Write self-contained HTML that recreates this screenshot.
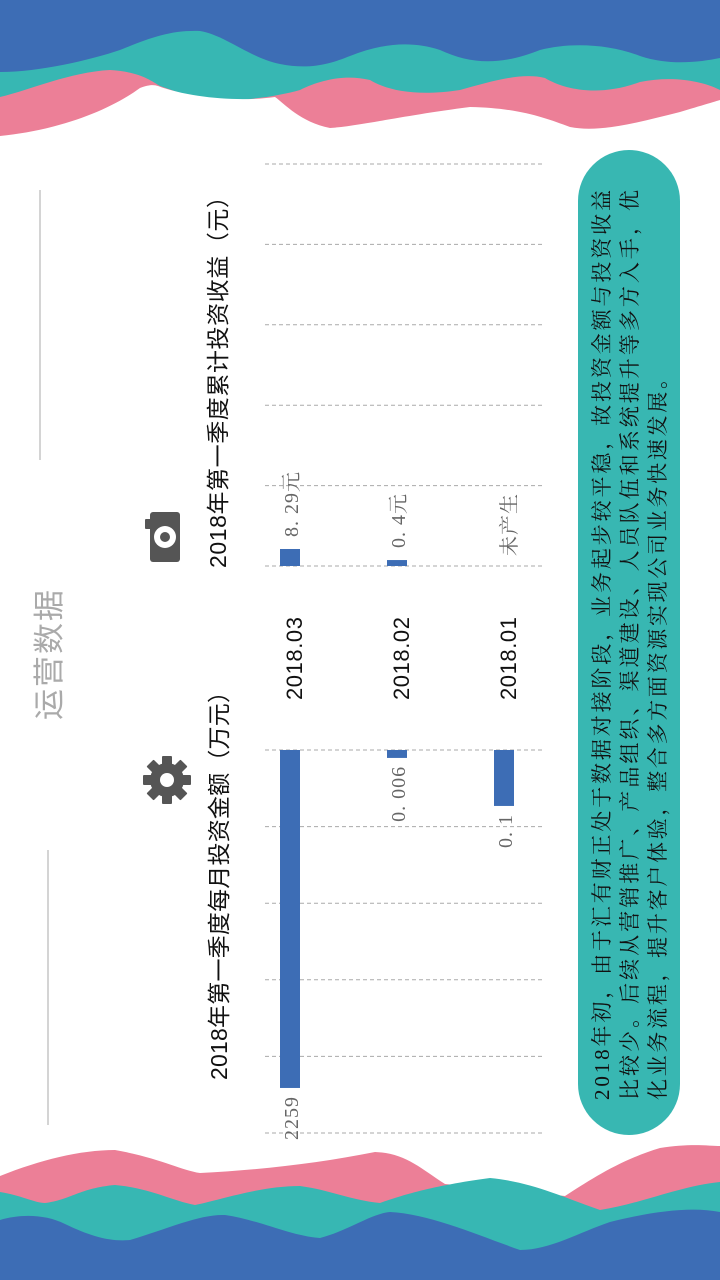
<!DOCTYPE html>
<html><head><meta charset="utf-8"><style>
html,body{margin:0;padding:0;background:#fff;}
svg{display:block;}
</style></head><body>
<svg width="720" height="1280" viewBox="0 0 720 1280" xmlns="http://www.w3.org/2000/svg">
<rect width="720" height="1280" fill="#fff"/>
<g>
<path d="M0,0 H720 V140 H0 Z" fill="#3d6db5"/>
<path d="M0,72 C40,72 90,60 120,50 C150,38 170,30 200,31 C225,35 250,58 280,64 C310,70 330,64 350,56 C380,44 410,40 440,50 C470,64 500,66 540,50 C570,42 610,44 640,56 C670,66 700,62 720,58 V140 H0 Z" fill="#37b7b3"/>
<path d="M0,97 C30,90 70,72 110,70 C140,72 150,80 160,86 L200,100 C240,102 275,97 300,90 C320,80 345,74 370,80 C390,92 420,96 460,90 C490,82 520,72 545,78 C565,90 600,97 640,82 C670,76 700,80 720,90 V140 H0 Z" fill="#ec7f97"/>
<path d="M0,140 V136 C60,130 110,110 140,88 C150,84 155,85 158,86 C190,98 240,102 275,97 C285,104 300,122 330,128 C360,126 400,116 470,107 C520,108 545,118 570,127 C600,133 640,122 680,112 C700,106 720,100 720,100 V140 Z" fill="#fff"/>
</g>
<g>
<path d="M0,1176 C40,1160 80,1150 115,1150 C160,1158 180,1170 200,1173 C260,1170 320,1163 375,1152 C405,1153 420,1168 445,1184 L565,1196 C590,1180 620,1160 660,1148 C690,1143 710,1146 720,1146 V1280 H0 Z" fill="#ec7f97"/>
<path d="M0,1192 C20,1195 35,1203 45,1203 C70,1200 80,1188 115,1185 C150,1188 170,1200 195,1205 C220,1200 260,1186 300,1186 C330,1190 350,1200 380,1203 C400,1196 430,1186 490,1178 C530,1182 555,1194 600,1210 C640,1204 680,1186 720,1182 V1280 H0 Z" fill="#37b7b3"/>
<path d="M0,1220 C20,1214 45,1214 65,1224 C90,1236 110,1242 130,1240 C170,1228 200,1214 225,1215 C260,1220 290,1236 320,1238 C350,1230 370,1214 390,1212 C430,1214 480,1236 520,1250 C550,1250 580,1232 610,1222 C650,1212 690,1206 720,1212 V1280 H0 Z" fill="#3d6db5"/>
</g>

<g>
<line x1="40" y1="190" x2="40" y2="460" stroke="#aaa" stroke-width="1"/>
<line x1="48" y1="850" x2="48" y2="1125" stroke="#aaa" stroke-width="1"/>
<text transform="translate(60,720) rotate(-90)" font-family="'Liberation Sans','Noto Sans CJK SC',sans-serif" font-size="31" fill="#aaa" textLength="130">运营数据</text>
</g>

<g>
<rect x="578" y="150" width="102" height="985" rx="51" fill="#38b7b2"/>
<g font-family="'Liberation Serif','Noto Serif CJK SC',serif" font-size="21" fill="#111">
<text transform="translate(609,1100) rotate(-90)" textLength="910" lengthAdjust="spacing">2018年初，由于汇有财正处于数据对接阶段，业务起步较平稳，故投资金额与投资收益</text>
<text transform="translate(637,1100) rotate(-90)" textLength="910" lengthAdjust="spacing">比较少。后续从营销推广、产品组织、渠道建设、人员队伍和系统提升等多方入手，优</text>
<text transform="translate(665,1100) rotate(-90)" textLength="732" lengthAdjust="spacing">化业务流程，提升客户体验，整合多方面资源实现公司业务快速发展。</text>
</g>
</g>

<g transform="translate(167,780)" fill="#555">
<rect x="-5" y="-24" width="10" height="48" rx="1"/>
<rect x="-5" y="-24" width="10" height="48" rx="1" transform="rotate(45)"/>
<rect x="-5" y="-24" width="10" height="48" rx="1" transform="rotate(90)"/>
<rect x="-5" y="-24" width="10" height="48" rx="1" transform="rotate(135)"/>
<circle r="17"/>
<circle r="7" fill="#fff"/>
</g>
<g transform="translate(165,537)" fill="#555">
<rect x="-15" y="-25" width="30" height="50" rx="3"/>
<rect x="-20" y="-18" width="6" height="10" rx="1"/>
<circle r="11" fill="#fff"/>
<circle r="5"/>
</g>

<g id="charts"></g>
</svg>
<script>
const categories = ['2018.03','2018.02','2018.01'];
const amountValues = [2259, 53, 374];
const amountLabels = ['2259','0. 006','0. 1'];
const amountMax = 2560;
const amountTicks = [0,1,2,3,4,5];
const incomeValues = [8.29, 2.9, 0];
const incomeLabels = ['8. 29元','0. 4元','未产生'];
const incomeMax = 196;
const incomeTicks = [0,1,2,3,4,5];

const NS='http://www.w3.org/2000/svg';
const root=document.getElementById('charts');
function mk(tag,attrs,parent){const e=document.createElementNS(NS,tag);for(const k in attrs)e.setAttribute(k,attrs[k]);(parent||root).appendChild(e);return e;}
const catX = i => 280 + i*107;
const barW = 20;
const amtY = v => 750 + v/amountMax*383;
const incY = v => 566 - v/incomeMax*402;

const g1=mk('g',{});


const g2=mk('g',{});



amountTicks.forEach(t=>{
  const y=750+t*76.6;
  const l=mk('line',{x1:265,x2:545,y1:y,y2:y,stroke:'#aaa','stroke-width':1,'stroke-dasharray':'4,3'},g1);
  
  
});
incomeTicks.forEach(t=>{
  const y=566-t*80.4;
  const l=mk('line',{x1:265,x2:545,y1:y,y2:y,stroke:'#aaa','stroke-width':1,'stroke-dasharray':'4,3'},g2);
  
  
});

const serif="'Liberation Serif','Noto Serif CJK SC',serif";
const sans="'Liberation Sans','Noto Sans CJK SC',sans-serif";

categories.forEach((c,i)=>{
  const x=catX(i);
  const y1=amtY(amountValues[i]);
  const b=mk('rect',{x:x,y:750,width:barW,height:Math.max(0,y1-750),fill:'#3d6db5'},g1);
  
  
  const t=mk('text',{transform:`translate(${x+18},${y1+8}) rotate(-90)`,'text-anchor':'end','font-family':serif,'font-size':20,fill:'#666','letter-spacing':1},g1);
  t.textContent=amountLabels[i];
  
  

  const y2=incY(incomeValues[i]);
  if(incomeValues[i]>0){
    const b2=mk('rect',{x:x,y:y2,width:barW,height:566-y2,fill:'#3d6db5'},g2);
    
    
  }
  const t2=mk('text',{transform:`translate(${x+18+(incomeValues[i]>0?0:4)},${(incomeValues[i]>0?y2:568)-12}) rotate(-90)`,'text-anchor':'start','font-family':serif,'font-size':20,fill:'#666','letter-spacing':1},g2);
  t2.textContent=incomeLabels[i];
  
  

  const ct=mk('text',{transform:`translate(${x+22},700) rotate(-90)`,'font-family':sans,'font-size':22,fill:'#111',textLength:83},root);
  ct.textContent=c;
  
  
});

const tt1=mk('text',{transform:'translate(227,1080) rotate(-90)','font-family':sans,'font-size':23,fill:'#111',textLength:400},g1);
tt1.textContent='2018年第一季度每月投资金额（万元）';


const tt2=mk('text',{transform:'translate(226,568) rotate(-90)','font-family':sans,'font-size':23,fill:'#111',textLength:383},g2);
tt2.textContent='2018年第一季度累计投资收益（元）';


</script>
</body></html>
